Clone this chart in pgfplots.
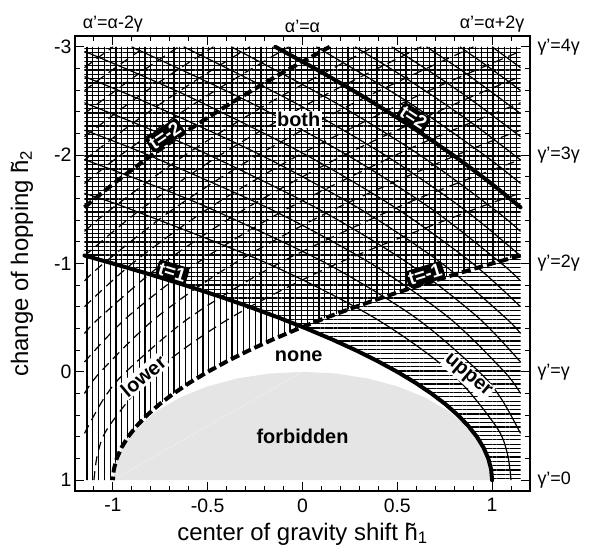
\documentclass[border=0pt]{standalone}
\usepackage{fontspec}
\setmainfont{Liberation Sans}
\usepackage{pgfplots}
\pgfplotsset{compat=1.18}
\usetikzlibrary{patterns.meta}

\pgfplotsset{
  famup/.style={black, line width=1.2bp, smooth},
  famdn/.style={black, line width=1.2bp, smooth, dash pattern=on 9bp off 6bp},
  bndup/.style={black, line width=4bp, line join=round, line cap=round},
  bnddn/.style={black, line width=4bp, line join=round, dash pattern=on 9bp off 4bp},
}
\tikzset{
  tlab/.style={fill=black, text=white, font=\bfseries\fontsize{19}{19}\selectfont,
    inner sep=2bp, rounded corners=3bp, anchor=south},
  reg/.style={font=\bfseries\fontsize{20}{20}\selectfont, inner sep=1.5bp},
}

\begin{document}
\begin{tikzpicture}
\path[use as bounding box] (-75bp,-65bp) rectangle (515bp,491bp);

\begin{axis}[
  at={(0,0)}, anchor=south west,
  width=455bp, height=455bp, scale only axis,
  xmin=-1.2, xmax=1.2, ymin=-3.1, ymax=1.1, y dir=reverse,
  enlargelimits=false, no markers,
  xtick={-1,-0.5,0,0.5,1},
  minor xtick={-1.1,-0.9,-0.8,-0.7,-0.6,-0.4,-0.3,-0.2,-0.1,0.1,0.2,0.3,0.4,0.6,0.7,0.8,0.9,1.1},
  ytick={-3,-2,-1,0,1},
  minor ytick={-2.8,-2.6,-2.4,-2.2,-1.8,-1.6,-1.4,-1.2,-0.8,-0.6,-0.4,-0.2,0.2,0.4,0.6,0.8},
  tick align=inside, tick pos=both,
  major tick length=9bp, minor tick length=5bp,
  every tick/.style={black, line width=1bp},
  axis line style={line width=1.6bp},
  ticklabel style={font=\fontsize{19.5}{20}\selectfont},
  xticklabel style={yshift=-4bp},
  /pgf/number format/assume math mode=true,
  xlabel={center of gravity shift \~{h}\textsubscript{1}},
  ylabel={change of hopping \~{h}\textsubscript{2}},
  xlabel style={font=\fontsize{24}{24}\selectfont, at={(axis description cs:0.5,-0.108)}, anchor=base},
  ylabel style={font=\fontsize{24}{24}\selectfont, at={(axis description cs:-0.1165,0.5)}, anchor=center},
  axis on top,
]

% forbidden region
\addplot[draw=none, fill=black!10] coordinates {
  (-1,1) (-0.9848,0.8264) (-0.9397,0.6580) (-0.8660,0.5) (-0.7660,0.3572) (-0.6428,0.2340)
  (-0.5,0.1340) (-0.3420,0.0603) (-0.1736,0.0152) (0,0) (0.1736,0.0152) (0.3420,0.0603)
  (0.5,0.1340) (0.6428,0.2340) (0.7660,0.3572) (0.8660,0.5) (0.9397,0.6580) (0.9848,0.8264) (1,1)
};
\addplot[white, line width=0.5bp, densely dotted] coordinates {(-1,1) (0,0)};

% upper bound state region (horizontal hatch)
\addplot[draw=none, pattern={Lines[angle=0,distance=4.3bp,line width=1.2bp]}] coordinates {
  (-1.15,-3) (-1.15,-1.074) (-1.0,-1.0) (-0.805,-0.9) (-0.62,-0.8) (-0.445,-0.7) (-0.28,-0.6)
  (-0.125,-0.5) (0.02,-0.4) (0.155,-0.3) (0.28,-0.2) (0.395,-0.1) (0.5,0) (0.595,0.1) (0.68,0.2)
  (0.755,0.3) (0.82,0.4) (0.875,0.5) (0.92,0.6) (0.955,0.7) (0.98,0.8) (0.995,0.9) (1,1)
  (1.15,1) (1.15,-3)
};
% lower bound state region (vertical hatch)
\addplot[draw=none, pattern={Lines[angle=90,distance=5.8bp,line width=1.2bp]}] coordinates {
  (1.15,-3) (1.15,-1.074) (1.0,-1.0) (0.805,-0.9) (0.62,-0.8) (0.445,-0.7) (0.28,-0.6)
  (0.125,-0.5) (-0.02,-0.4) (-0.155,-0.3) (-0.28,-0.2) (-0.395,-0.1) (-0.5,0) (-0.595,0.1) (-0.68,0.2)
  (-0.755,0.3) (-0.82,0.4) (-0.875,0.5) (-0.92,0.6) (-0.955,0.7) (-0.98,0.8) (-0.995,0.9) (-1,1)
  (-1.15,1) (-1.15,-3)
};

% t > 1 family
\addplot[famup] coordinates {(1.1,1) (1.0799,0.75) (1.0198,0.5) (0.7791,0) (0.3780,-0.5) (-0.1835,-1) (-0.9054,-1.5) (-1.15,-1.6481)};
\addplot[famup] coordinates {(1.15,0.5683) (1.0491,0.25) (0.9317,0) (0.5962,-0.5) (0.1266,-1) (-0.4771,-1.5) (-0.8293,-1.75) (-1.15,-1.9593)};
\addplot[famup] coordinates {(1.15,0.2005) (1.0653,0) (0.7720,-0.5) (0.3613,-1) (-0.1667,-1.5) (-0.8120,-2) (-1.15,-2.2311)};
\addplot[famup] coordinates {(1.15,-0.0908) (0.9273,-0.5) (0.5596,-1) (0.0869,-1.5) (-0.4909,-2) (-0.8192,-2.25) (-1.15,-2.4838)};
\addplot[famup] coordinates {(1.15,-0.3537) (1.0703,-0.5) (0.7361,-1) (0.3064,-1.5) (-0.2188,-2) (-0.8395,-2.5) (-1.15,-2.7250)};
\addplot[famup] coordinates {(1.15,-0.6013) (0.898,-1) (0.5031,-1.5) (0.0205,-2) (-0.5499,-2.5) (-0.8680,-2.75) (-1.15,-2.9585)};
\addplot[famup] coordinates {(1.15,-0.8391) (1.0495,-1) (0.6837,-1.5) (0.2365,-2) (-0.2920,-2.5) (-0.9018,-3)};
\addplot[famup] coordinates {(1.15,-1.0702) (0.8521,-1.5) (0.4350,-2) (-0.0579,-2.5) (-0.6267,-3)};
\addplot[famup] coordinates {(1.15,-1.2964) (1.0111,-1.5) (0.6200,-2) (0.1577,-2.5) (-0.3756,-3)};
\addplot[famup] coordinates {(1.15,-1.7384) (0.9598,-2) (0.5480,-2.5) (0.0729,-3)};
\addplot[famup] coordinates {(1.15,-1.9555) (0.9303,-2.25) (0.7275,-2.5) (0.5096,-2.75) (0.2767,-3)};
\addplot[famup] coordinates {(1.15,-2.1708) (0.8988,-2.5) (0.6915,-2.75) (0.4699,-3)};
\addplot[famup] coordinates {(1.15,-2.3844) (0.8654,-2.75) (0.6539,-3)};
\addplot[famup] coordinates {(1.15,-2.5967) (1.0325,-2.75) (0.8303,-3)};
\addplot[famup] coordinates {(1.15,-2.8079) (1.0,-3)};

% t < -1 family
\addplot[famdn] coordinates {(-1.1,1) (-1.0799,0.75) (-1.0198,0.5) (-0.7791,0) (-0.3780,-0.5) (0.1835,-1) (0.9054,-1.5) (1.15,-1.6481)};
\addplot[famdn] coordinates {(-1.15,0.5683) (-1.0491,0.25) (-0.9317,0) (-0.5962,-0.5) (-0.1266,-1) (0.4771,-1.5) (0.8293,-1.75) (1.15,-1.9593)};
\addplot[famdn] coordinates {(-1.15,0.2005) (-1.0653,0) (-0.7720,-0.5) (-0.3613,-1) (0.1667,-1.5) (0.8120,-2) (1.15,-2.2311)};
\addplot[famdn] coordinates {(-1.15,-0.0908) (-0.9273,-0.5) (-0.5596,-1) (-0.0869,-1.5) (0.4909,-2) (0.8192,-2.25) (1.15,-2.4838)};
\addplot[famdn] coordinates {(-1.15,-0.3537) (-1.0703,-0.5) (-0.7361,-1) (-0.3064,-1.5) (0.2188,-2) (0.8395,-2.5) (1.15,-2.7250)};
\addplot[famdn] coordinates {(-1.15,-0.6013) (-0.898,-1) (-0.5031,-1.5) (-0.0205,-2) (0.5499,-2.5) (0.8680,-2.75) (1.15,-2.9585)};
\addplot[famdn] coordinates {(-1.15,-0.8391) (-1.0495,-1) (-0.6837,-1.5) (-0.2365,-2) (0.2920,-2.5) (0.9018,-3)};
\addplot[famdn] coordinates {(-1.15,-1.0702) (-0.8521,-1.5) (-0.4350,-2) (0.0579,-2.5) (0.6267,-3)};
\addplot[famdn] coordinates {(-1.15,-1.2964) (-1.0111,-1.5) (-0.6200,-2) (-0.1577,-2.5) (0.3756,-3)};
\addplot[famdn] coordinates {(-1.15,-1.7384) (-0.9598,-2) (-0.5480,-2.5) (-0.0729,-3)};
\addplot[famdn] coordinates {(-1.15,-1.9555) (-0.9303,-2.25) (-0.7275,-2.5) (-0.5096,-2.75) (-0.2767,-3)};
\addplot[famdn] coordinates {(-1.15,-2.1708) (-0.8988,-2.5) (-0.6915,-2.75) (-0.4699,-3)};
\addplot[famdn] coordinates {(-1.15,-2.3844) (-0.8654,-2.75) (-0.6539,-3)};
\addplot[famdn] coordinates {(-1.15,-2.5967) (-1.0325,-2.75) (-0.8303,-3)};
\addplot[famdn] coordinates {(-1.15,-2.8079) (-1.0,-3)};

% thick curves t = 1, -1, 2, -2
\addplot[bndup] coordinates {
  (-1.15,-1.074) (-1.0,-1.0) (-0.805,-0.9) (-0.62,-0.8) (-0.445,-0.7) (-0.28,-0.6)
  (-0.125,-0.5) (0.02,-0.4) (0.155,-0.3) (0.28,-0.2) (0.395,-0.1) (0.5,0) (0.595,0.1) (0.68,0.2)
  (0.755,0.3) (0.82,0.4) (0.875,0.5) (0.92,0.6) (0.955,0.7) (0.98,0.8) (0.995,0.9) (1,1)
};
\addplot[bnddn] coordinates {
  (1.15,-1.074) (1.0,-1.0) (0.805,-0.9) (0.62,-0.8) (0.445,-0.7) (0.28,-0.6)
  (0.125,-0.5) (-0.02,-0.4) (-0.155,-0.3) (-0.28,-0.2) (-0.395,-0.1) (-0.5,0) (-0.595,0.1) (-0.68,0.2)
  (-0.755,0.3) (-0.82,0.4) (-0.875,0.5) (-0.92,0.6) (-0.955,0.7) (-0.98,0.8) (-0.995,0.9) (-1,1)
};
\addplot[bndup, smooth] coordinates {(1.15,-1.5188) (0.9868,-1.75) (0.7942,-2) (0.5849,-2.25) (0.3588,-2.5) (0.1160,-2.75) (-0.1436,-3)};
\addplot[bnddn, smooth] coordinates {(-1.15,-1.5188) (-0.9868,-1.75) (-0.7942,-2) (-0.5849,-2.25) (-0.3588,-2.5) (-0.1160,-2.75) (0.1436,-3)};

% labels
\node[tlab, rotate=-17] at (axis cs:-0.70,-0.844) {t=1};
\node[tlab, rotate=17] at (axis cs:0.66,-0.822) {t=-1};
\node[tlab, rotate=-33] at (axis cs:0.56,-2.278) {t=2};
\node[tlab, rotate=34] at (axis cs:-0.70,-2.115) {t=-2};
\node[reg, fill=white] at (axis cs:-0.02,-2.33) {both};
\node[reg] at (axis cs:-0.02,-0.14) {none};
\node[reg] at (axis cs:0,0.6) {forbidden};
\node[reg, fill=white, rotate=40] at (axis cs:-0.84,0.04) {lower};
\node[reg, fill=white, rotate=-40] at (axis cs:0.87,0.04) {upper};
\end{axis}

% top and right labels
\begin{axis}[
  at={(0,0)}, anchor=south west,
  width=455bp, height=455bp, scale only axis,
  xmin=-1.2, xmax=1.2, ymin=-3.1, ymax=1.1, y dir=reverse,
  axis line style={draw=none}, tick style={draw=none}, major tick length=0bp,
  minor tick num=0,
  xtick={-1,0,1}, xticklabels={{α'=α-2γ},{α'=α},{α'=α+2γ}}, xticklabel pos=upper,
  ytick={-3,-2,-1,0,1}, yticklabels={{γ'=4γ},{γ'=3γ},{γ'=2γ},{γ'=γ},{γ'=0}}, yticklabel pos=upper,
  ticklabel style={font=\fontsize{18}{18}\selectfont},
  yticklabel style={xshift=4bp},
]
\addplot[draw=none] coordinates {(0,0)};
\end{axis}
\end{tikzpicture}
\end{document}
